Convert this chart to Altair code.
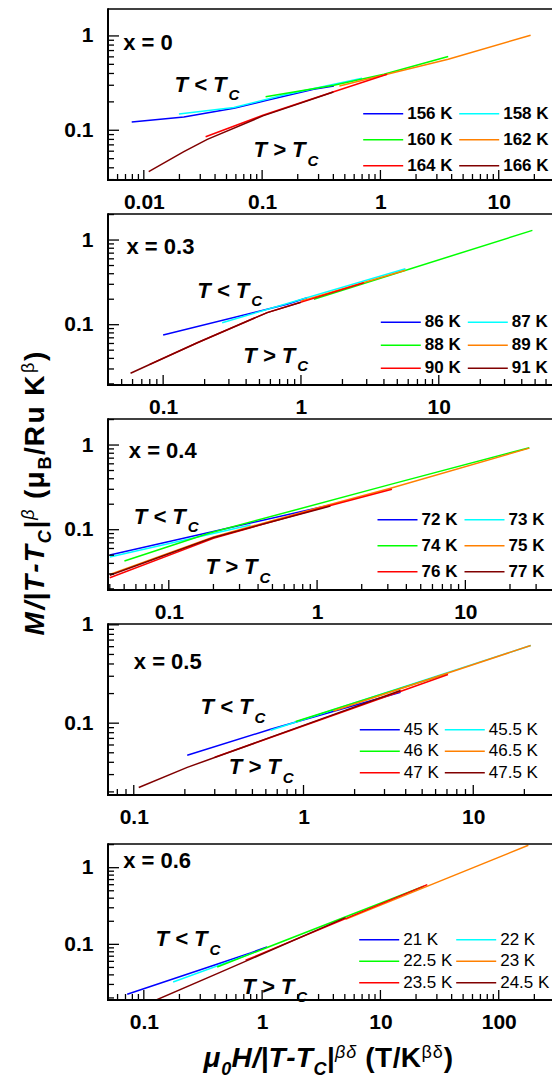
import altair as alt
import pandas as pd

FONT = "Liberation Sans"
COLORS = ["#0000ff", "#00ffff", "#00ff00", "#ff8000", "#ff0000", "#800000"]

# ---------------- data ----------------
# x = 0
p1_labels = ["156 K", "158 K", "160 K", "162 K", "164 K", "166 K"]
p1_x = [[0.0079, 0.0218, 0.0577, 0.110, 0.273, 0.404],
        [0.0198, 0.0577, 0.152, 0.70],
        [0.107, 0.404, 1.07, 3.74],
        [0.45, 1.07, 3.74, 18.6],
        [0.0333, 0.1015, 0.397, 1.14],
        [0.0110, 0.0218, 0.0344, 0.1015, 0.40]]
p1_y = [[0.1225, 0.138, 0.171, 0.208, 0.272, 0.295],
        [0.149, 0.174, 0.237, 0.356],
        [0.227, 0.300, 0.393, 0.604],
        [0.295, 0.385, 0.566, 1.017],
        [0.0855, 0.144, 0.255, 0.392],
        [0.0364, 0.0593, 0.080, 0.142, 0.255]]
# x = 0.3
p2_labels = ["86 K", "87 K", "88 K", "89 K", "90 K", "91 K"]
p2_x = [[0.1, 0.794, 1.11],
        [0.268, 5.73],
        [1.24, 47.8],
        [1.0, 5.73],
        [0.08, 0.177, 0.569, 2.86],
        [0.058, 0.177, 0.569, 1.0]]
p2_y = [[0.0756, 0.174, 0.208],
        [0.1057, 0.458],
        [0.200, 1.30],
        [0.190, 0.439],
        [0.034, 0.0613, 0.139, 0.313],
        [0.0267, 0.0613, 0.139, 0.184]]
# x = 0.4
p3_labels = ["72 K", "73 K", "74 K", "75 K", "76 K", "77 K"]
p3_x = [[0.040, 1.23],
        [0.040, 0.356],
        [0.0502, 0.191, 3.13, 27.0],
        [0.040, 0.2, 1.0, 3.13, 27.0],
        [0.040, 0.2, 1.0, 3.2],
        [0.040, 0.2, 1.23]]
p3_y = [[0.0502, 0.196],
        [0.0476, 0.1136],
        [0.0427, 0.092, 0.343, 0.929],
        [0.0297, 0.082, 0.180, 0.308, 0.920],
        [0.0271, 0.079, 0.176, 0.300],
        [0.029, 0.081, 0.190]]
# x = 0.5
p4_labels = ["45 K", "45.5 K", "46 K", "46.5 K", "47 K", "47.5 K"]
p4_x = [[0.2065, 0.64, 3.73],
        [0.64, 21.8],
        [0.9, 7.03],
        [1.5, 21.8],
        [0.3, 7.1],
        [0.107, 0.2065, 3.73]]
p4_y = [[0.0471, 0.0867, 0.2065],
        [0.0847, 0.616],
        [0.104, 0.320],
        [0.133, 0.616],
        [0.045, 0.313],
        [0.0222, 0.0355, 0.215]]
# x = 0.6
p5_labels = ["21 K", "22 K", "22.5 K", "23 K", "23.5 K", "24.5 K"]
p5_x = [[0.0724, 0.798, 1.10],
        [0.177, 0.85],
        [0.417, 23.3],
        [5.07, 178.0],
        [0.725, 24.9],
        [0.126, 0.417, 5.07]]
p5_y = [[0.0224, 0.0773, 0.0925],
        [0.0323, 0.078],
        [0.0507, 0.572],
        [0.212, 1.96],
        [0.062, 0.601],
        [0.0187, 0.0415, 0.223]]

x_ticklabels = [[0.01, 0.1, 1, 10], [0.1, 1, 10], [0.1, 1, 10], [0.1, 1, 10], [0.1, 1, 10, 100]]
y_ticklabels = [0.1, 1]
panel_names = ["x = 0", "x = 0.3", "x = 0.4", "x = 0.5", "x = 0.6"]

# ---------------- layout / style ----------------
W, H = 444, 171
ONE = pd.DataFrame({"a": [0]})

WID = {"M": 833, "/": 278, "|": 280, "T": 611, "-": 333, " ": 278, "(": 333, ")": 333,
       "μ": 611, "B": 722, "R": 722, "u": 611, "K": 722, "C": 722, "H": 722, "0": 556,
       "β": 600, "δ": 600}


def txt(s, x, y, size, italic=False, bold=True, angle=0, align="left"):
    kw = dict(font=FONT, fontSize=size, fontStyle="italic" if italic else "normal",
              fontWeight="bold" if bold else "normal", align=align, baseline="alphabetic",
              color="black")
    if angle:
        kw["angle"] = angle
    return alt.Chart(pd.DataFrame({"t": [s]})).mark_text(**kw).encode(
        x=alt.value(x), y=alt.value(y), text="t:N")


def rich(pieces, x0, y0, F, f, total, vertical):
    items = []
    for text, role, italic, bold in pieces:
        size = F if role == "main" else f
        shift = 0 if role == "main" else (0.28 * F if role == "sub" else -0.33 * F)
        for ch in text:
            items.append((ch, size, italic, bold, shift, WID[ch] / 1000 * size))
    k = total / sum(i[5] for i in items)
    out, pos = [], 0.0
    for ch, size, italic, bold, shift, adv in items:
        if ch != " ":
            if vertical:
                out.append(txt(ch, x0 + shift, y0 - pos, size, italic, bold, angle=270))
            else:
                out.append(txt(ch, x0 + pos, y0 + shift, size, italic, bold))
        pos += adv * k
    return out


def tick_values(lo, hi):
    maj, mnr = [], []
    for e in range(-4, 4):
        for m in range(1, 10):
            v = float(f"{m}e{e}")
            if lo <= v <= hi * 1.0001:
                (maj if m == 1 else mnr).append(v)
    return maj, mnr


def tc(x, y, sign):
    return [txt("T " + sign + " T", x, y, 22, italic=True), txt("C", x + 54, y + 8.5, 15, italic=True)]


panels_cfg = [
    dict(labels=p1_labels, xs=p1_x, ys=p1_y, xdom=[0.00498, 28.2], ydom=[0.0297, 1.93], ytop=1.93, top=0,
         xt=x_ticklabels[0], leg=(254.2, 94.8, 5, 6, True),
         ann=[txt(panel_names[0], 15.2, 41.3, 22)] + tc(66.5, 82.7, "<") + tc(145.5, 148, ">")),
    dict(labels=p2_labels, xs=p2_x, ys=p2_y, xdom=[0.0398, 66.3], ydom=[0.0194, 2.03], ytop=2.03, top=0,
         xt=x_ticklabels[1], leg=(271.8, 98.2, 6, 3, True),
         ann=[txt(panel_names[1], 18.5, 40.3, 22)] + tc(89.2, 83.7, "<") + tc(135.2, 148.7, ">")),
    dict(labels=p3_labels, xs=p3_x, ys=p3_y, xdom=[0.0389, 38.4], ydom=[0.0194, 2.03], ytop=2.03, top=0,
         xt=x_ticklabels[2], leg=(268.5, 90.8, 6, 6, True),
         ann=[txt(panel_names[2], 20.8, 39.3, 22)] + tc(25.8, 104.7, "<") + tc(97.5, 155.3, ">")),
    dict(labels=p4_labels, xs=p4_x, ys=p4_y, xdom=[0.0705, 29.1], ydom=[0.0186, 1.02], ytop=1.02, top=0,
         xt=x_ticklabels[3], leg=(250.8, 95.8, 5, 1.5, False),
         ann=[txt(panel_names[3], 25.8, 44.7, 22)] + tc(92.5, 90.3, "<") + tc(120.8, 150.3, ">")),
    dict(labels=p5_labels, xs=p5_x, ys=p5_y, xdom=[0.0498, 282.0], ydom=[0.0188, 3.196], ytop=2.04, top=15,
         xt=x_ticklabels[4], leg=(250.2, 100.8, 2, 1.5, False),
         ann=[txt(panel_names[4], 15.2, 38.7, 22)] + tc(47.5, 117, "<") + tc(134.2, 164.7, ">")),
]

# y-axis title (in panel 3) and x-axis title (in panel 5)
ytitle = rich([("M/|T-T", "main", True, True), ("C", "sub", True, True), ("|", "main", False, True),
               ("β", "sup", True, False), (" (μ", "main", False, True), ("B", "sub", False, True),
               ("/Ru K", "main", False, True), ("β", "sup", False, False), (")", "main", False, True)],
              -64.5, 216.5, 28, 18, 285, True)
xtitle = rich([("μ", "main", True, True), ("0", "sub", True, True), ("H/|T-T", "main", True, True),
               ("C", "sub", True, True), ("|", "main", False, True), ("βδ", "sup", True, False),
               (" (T/K", "main", False, True), ("βδ", "sup", False, False), (")", "main", False, True)],
              95.5, 238, 28, 18, 250, False)
panels_cfg[2]["ann"] += ytitle
panels_cfg[4]["ann"] += xtitle
# keeps the page origin at the figure's top-left corner
panels_cfg[0]["ann"].append(alt.Chart(ONE).mark_rule(color="white", strokeWidth=1).encode(
    x=alt.value(-107), x2=alt.value(-106), y=alt.value(-8)))


def make_panel(p):
    rows = []
    for lab, xx, yy in zip(p["labels"], p["xs"], p["ys"]):
        for a, b in zip(xx, yy):
            rows.append({"label": lab, "x": a, "y": b})
    df = pd.DataFrame(rows)
    top = p["top"]
    xsc = alt.Scale(type="log", domain=p["xdom"], nice=False)
    ysc = alt.Scale(type="log", domain=p["ydom"], nice=False)
    common = dict(title=None, domain=False, ticks=False, grid=False, labelFontSize=21,
                  labelFontWeight="bold", labelFont=FONT, labelColor="black", format="~g",
                  labelFlush=False, labelOverlap=False)
    xax = alt.Axis(values=p["xt"], labelPadding=11, **common)
    yax = alt.Axis(values=y_ticklabels, labelPadding=15, **common)
    lx, ly, cpad, rpad, bold = p["leg"]
    legend = alt.Legend(title=None, orient="none", legendX=lx, legendY=ly, columns=2,
                        direction="horizontal", clipHeight=20,
                        symbolType="stroke", symbolSize=1600, symbolStrokeWidth=1.5,
                        labelFontSize=17, labelFontWeight="bold" if bold else "normal",
                        labelFont=FONT, labelColor="black", columnPadding=cpad, rowPadding=rpad,
                        labelOffset=3, padding=0)
    lines = alt.Chart(df).mark_line(strokeWidth=1.5, clip=True).encode(
        x=alt.X("x:Q", scale=xsc, axis=xax),
        y=alt.Y("y:Q", scale=ysc, axis=yax),
        color=alt.Color("label:N", scale=alt.Scale(domain=p["labels"], range=COLORS),
                        sort=p["labels"], legend=legend),
    )
    xmaj, xmin = tick_values(*p["xdom"])
    ymaj, ymin = tick_values(p["ydom"][0], p["ytop"])
    layers = [lines]
    for vals, ln in ((xmaj, 10), (xmin, 6)):
        layers.append(alt.Chart(pd.DataFrame({"x": vals})).mark_rule(color="black", strokeWidth=1.3).encode(
            x=alt.X("x:Q", scale=xsc, axis=xax), y=alt.value(H), y2=alt.value(H - ln)))
    for vals, ln in ((ymaj, 11), (ymin, 6)):
        layers.append(alt.Chart(pd.DataFrame({"y": vals})).mark_rule(color="black", strokeWidth=1.3).encode(
            y=alt.Y("y:Q", scale=ysc, axis=yax), x=alt.value(0), x2=alt.value(ln)))
    layers.append(alt.Chart(ONE).mark_rule(color="black", strokeWidth=2).encode(
        x=alt.value(0), y=alt.value(top - 0.7), y2=alt.value(H + 1)))
    layers.append(alt.Chart(ONE).mark_rule(color="black", strokeWidth=2).encode(
        x=alt.value(-1), x2=alt.value(W), y=alt.value(H)))
    layers.append(alt.Chart(ONE).mark_rule(color="black", strokeWidth=1.4).encode(
        x=alt.value(0), x2=alt.value(W), y=alt.value(top)))
    layers += p["ann"]
    return alt.layer(*layers).properties(width=W, height=H)


chart = alt.vconcat(*[make_panel(p) for p in panels_cfg], spacing=34, bounds="flush").resolve_scale(
    x="independent", y="independent", color="independent"
).properties(padding=0).configure(font=FONT).configure_view(stroke=None)

chart.save("out.html", embed_options={"renderer": "svg", "actions": False})
